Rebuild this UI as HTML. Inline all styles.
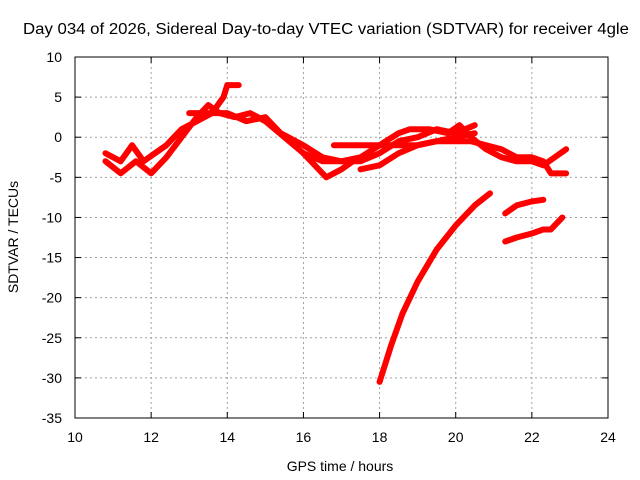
<!DOCTYPE html>
<html><head><meta charset="utf-8"><style>
body{margin:0;background:#fff}
svg{display:block;font-family:"Liberation Sans",sans-serif;font-size:14px}
</style></head><body>
<svg id="c" width="640" height="480">
<text x="326" y="34" text-anchor="middle" textLength="606" lengthAdjust="spacingAndGlyphs" style="font-size:15.5px">Day 034 of 2026, Sidereal Day-to-day VTEC variation (SDTVAR) for receiver 4gle</text>
<text x="340" y="471" text-anchor="middle">GPS time / hours</text>
<text transform="translate(18,237) rotate(-90)" text-anchor="middle">SDTVAR / TECUs</text>
<g id="grid"></g><g id="marks"></g>
<rect x="75" y="57" width="533" height="361" fill="none" stroke="#000"/>
</svg>
<script>
const xTicks=[10,12,14,16,18,20,22,24];
const yTicks=[10,5,0,-5,-10,-15,-20,-25,-30,-35];
const seriesA=[[10.8,-2],[11.2,-3],[11.5,-1],[11.8,-3],[12.1,-2],[12.4,-1],[12.8,1],[13.2,2],[13.6,3],[13.9,5],[14.0,6.5],[14.3,6.5]];
const seriesB=[[10.8,-3],[11.2,-4.5],[11.6,-3],[12,-4.5],[12.4,-2.5],[12.8,0],[13.2,2.5],[13.5,4],[13.8,3],[14.2,2.5],[14.6,3],[15,2],[15.5,0],[16,-2],[16.4,-4],[16.6,-5],[17,-4],[17.3,-3],[17.6,-2.5]];
const seriesC=[[13,3],[13.5,3],[14,3],[14.5,2],[15,2.5],[15.4,0.5],[16,-1],[16.5,-2.5],[17,-3],[17.5,-3],[18,-2],[18.5,-0.5],[19,0],[19.5,1],[20,0.5],[20.5,1.5]];
const seriesD=[[16,-2],[16.5,-3],[17,-3],[17.5,-2.5],[18,-1],[18.5,0.5],[18.8,1],[19.3,1],[19.8,0.5],[20.1,1.5],[20.4,0],[20.8,-1.5],[21.2,-2.5],[21.6,-3],[22,-3],[22.3,-3.5],[22.6,-2.5],[22.9,-1.5]];
const seriesE=[[16.8,-1],[17.5,-1],[18,-1],[18.5,-1],[19,-1],[19.5,-0.5],[20,-0.5],[20.4,-0.5],[20.8,-1],[21.2,-1.5],[21.6,-2.5],[22,-2.5],[22.3,-3],[22.5,-4.5],[22.9,-4.5]];
const seriesF=[[17.5,-4],[18,-3.5],[18.5,-2],[19,-1],[19.5,-0.5],[20,0],[20.5,0.5]];
const seriesG=[[18,-30.5],[18.3,-26],[18.6,-22],[19,-18],[19.5,-14],[20,-11],[20.5,-8.5],[20.9,-7]];
const seriesH=[[21.3,-9.5],[21.6,-8.5],[22,-8],[22.3,-7.8]];
const seriesI=[[21.3,-13],[21.6,-12.5],[22,-12],[22.3,-11.5],[22.5,-11.5],[22.8,-10]];
const allSeries=[seriesA,seriesB,seriesC,seriesD,seriesE,seriesF,seriesG,seriesH,seriesI];
const NS='http://www.w3.org/2000/svg';
const X=v=>75+(v-10)*533/14, Y=v=>57+(10-v)*361/45;
const grid=document.getElementById('grid'), marks=document.getElementById('marks');
function mk(tag,a,p){const e=document.createElementNS(NS,tag);for(const k in a)e.setAttribute(k,a[k]);p.appendChild(e);return e;}
xTicks.forEach(t=>{const x=X(t);
 if(t>10&&t<24){const g=mk('line',{x1:x,x2:x,y1:57,y2:418,stroke:'#a0a0a0','stroke-dasharray':'2,3'},grid);
 
 }
 mk('line',{x1:x,x2:x,y1:418,y2:412,stroke:'#000'},grid);mk('line',{x1:x,x2:x,y1:57,y2:63,stroke:'#000'},grid);
 const l=mk('text',{x:x,y:442,'text-anchor':'middle'},grid);l.textContent=t;
 
 });
yTicks.forEach(t=>{const y=Y(t);
 if(t<10&&t>-35){const g=mk('line',{x1:75,x2:608,y1:y,y2:y,stroke:'#a0a0a0','stroke-dasharray':'2,3'},grid);
 
 }
 mk('line',{x1:75,x2:81,y1:y,y2:y,stroke:'#000'},grid);mk('line',{x1:608,x2:602,y1:y,y2:y,stroke:'#000'},grid);
 const l=mk('text',{x:62,y:y+5,'text-anchor':'end'},grid);l.textContent=t;
 
 });
allSeries.forEach((s,i)=>{
 const p=mk('polyline',{points:s.map(d=>X(d[0])+','+Y(d[1])).join(' '),fill:'none',stroke:'#f00','stroke-width':6,'stroke-linejoin':'round','stroke-linecap':'round'},marks);
 
 });
</script>
</body></html>
